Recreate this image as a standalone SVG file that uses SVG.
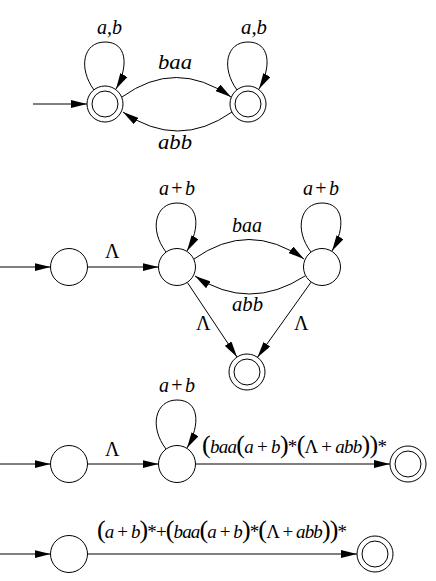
<svg xmlns="http://www.w3.org/2000/svg" width="436" height="581" viewBox="0 0 436 581">
<defs>
<marker id="ah" markerWidth="16" markerHeight="8" refX="16" refY="4" orient="auto" markerUnits="userSpaceOnUse"><path d="M0,0 L16,4 L0,8 z" fill="#000"/></marker>
<style>
.st{fill:#fff;stroke:#000;stroke-width:1}
.ed{fill:none;stroke:#000;stroke-width:1;marker-end:url(#ah)}
.lb{font-family:"Liberation Serif",serif;font-style:italic;font-size:20px;fill:#000}
.big{font-size:21px}
.up{font-style:normal}
.fx{font-family:"Liberation Serif",serif;font-style:italic;font-size:19px;fill:#000}
.pr{font-style:normal;font-size:26px}
</style>
</defs>
<rect width="436" height="581" fill="#fff"/>

<!-- Diagram 1 -->
<g id="d1-q1"><circle class="st" cx="105" cy="104" r="18"/><circle class="st" cx="105" cy="104" r="13"/></g>
<g id="d1-q2"><circle class="st" cx="248" cy="104" r="18"/><circle class="st" cx="248" cy="104" r="13"/></g>

<!-- Diagram 2 -->
<g id="d2-s1"><circle class="st" cx="69" cy="267" r="18.5"/></g>
<g id="d2-s2"><circle class="st" cx="177" cy="267" r="18.5"/></g>
<g id="d2-s3"><circle class="st" cx="322" cy="267" r="18.5"/></g>
<g id="d2-f"><circle class="st" cx="247" cy="372" r="18"/><circle class="st" cx="247" cy="372" r="13"/></g>

<!-- Diagram 3 -->
<g id="d3-s1"><circle class="st" cx="69" cy="464" r="18.5"/></g>
<g id="d3-s2"><circle class="st" cx="177" cy="464" r="18.5"/></g>
<g id="d3-f"><circle class="st" cx="408" cy="464" r="18"/><circle class="st" cx="408" cy="464" r="13"/></g>

<!-- Diagram 4 -->
<g id="d4-s1"><circle class="st" cx="69" cy="554" r="18.5"/></g>
<g id="d4-f"><circle class="st" cx="375" cy="554" r="18"/><circle class="st" cx="375" cy="554" r="13"/></g>

<g id="connectors">
<!-- d1 -->
<line class="ed" x1="33" y1="104" x2="87" y2="104"/>
<path class="ed" d="M94,90 C78,68 83,42 105,42 C127,42 129,66 116,89"/>
<path class="ed" d="M237,90 C221,68 226,42 248,42 C270,42 272,66 259,89"/>
<path class="ed" d="M122,97 Q176,58 231,97"/>
<path class="ed" d="M232,112 Q178,150 123,112"/>
<!-- d2 -->
<line class="ed" x1="0" y1="267" x2="50.5" y2="267"/>
<line class="ed" x1="87.5" y1="267" x2="158.5" y2="267"/>
<path class="ed" d="M166,252 C149,230 155,203 177,203 C199,203 201,227 187,251"/>
<path class="ed" d="M311,252 C294,230 300,203 322,203 C344,203 346,227 332,251"/>
<path class="ed" d="M194,259 Q249,220 304,259"/>
<path class="ed" d="M305,276 Q249,312 195,276"/>
<line class="ed" x1="187.3" y1="282.4" x2="237" y2="357"/>
<line class="ed" x1="311.2" y1="282" x2="257.5" y2="357.3"/>
<!-- d3 -->
<line class="ed" x1="0" y1="464" x2="50.5" y2="464"/>
<line class="ed" x1="87.5" y1="464" x2="158.5" y2="464"/>
<path class="ed" d="M166,449 C149,427 155,400 177,400 C199,400 201,424 187,448"/>
<line class="ed" x1="195.5" y1="464" x2="390" y2="464"/>
<!-- d4 -->
<line class="ed" x1="0" y1="554" x2="50.5" y2="554"/>
<line class="ed" x1="87.5" y1="554" x2="357" y2="554"/>
</g>

<g id="labels">
<text class="lb big" x="97" y="34" textLength="25" lengthAdjust="spacingAndGlyphs">a,b</text>
<text class="lb big" x="241" y="34" textLength="26" lengthAdjust="spacingAndGlyphs">a,b</text>
<text class="lb big" x="158" y="69" textLength="34" lengthAdjust="spacingAndGlyphs">baa</text>
<text class="lb big" x="158" y="149" textLength="34" lengthAdjust="spacingAndGlyphs">abb</text>

<text class="lb" x="159" y="195" textLength="36" lengthAdjust="spacing">a<tspan class="up">+</tspan>b</text>
<text class="lb" x="303" y="195" textLength="36" lengthAdjust="spacing">a<tspan class="up">+</tspan>b</text>
<text class="lb" x="232" y="232" textLength="30" lengthAdjust="spacingAndGlyphs">baa</text>
<text class="lb" x="232" y="311" textLength="31" lengthAdjust="spacingAndGlyphs">abb</text>
<text class="lb up" x="105" y="258">Λ</text>
<text class="lb up" x="196" y="330">Λ</text>
<text class="lb up" x="294" y="330">Λ</text>

<text class="lb" x="159" y="392" textLength="36" lengthAdjust="spacing">a<tspan class="up">+</tspan>b</text>
<text class="lb up" x="105" y="456">Λ</text>
<text class="fx" x="202" y="453" textLength="185" lengthAdjust="spacing"><tspan class="pr">(</tspan>baa<tspan class="pr">(</tspan>a<tspan class="up"> + </tspan>b<tspan class="pr">)</tspan><tspan class="up">*</tspan><tspan class="pr">(</tspan><tspan class="up">Λ + </tspan>abb<tspan class="pr">))</tspan><tspan class="up">*</tspan></text>

<text class="fx" x="97" y="538" textLength="250" lengthAdjust="spacing"><tspan class="pr">(</tspan>a<tspan class="up"> + </tspan>b<tspan class="pr">)</tspan><tspan class="up">*+</tspan><tspan class="pr">(</tspan>baa<tspan class="pr">(</tspan>a<tspan class="up"> + </tspan>b<tspan class="pr">)</tspan><tspan class="up">*</tspan><tspan class="pr">(</tspan><tspan class="up">Λ + </tspan>abb<tspan class="pr">))</tspan><tspan class="up">*</tspan></text>
</g>
</svg>
